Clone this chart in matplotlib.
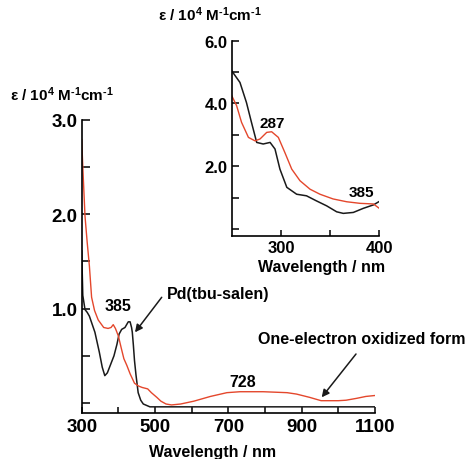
import matplotlib
matplotlib.use("Agg")
import matplotlib.pyplot as plt
import numpy as np

plt.rcParams['font.family'] = ['Liberation Sans', 'DejaVu Sans']
plt.rcParams['font.weight'] = 'bold'
plt.rcParams['mathtext.fontset'] = 'custom'
plt.rcParams['mathtext.rm'] = 'Liberation Sans:bold'
plt.rcParams['mathtext.it'] = 'Liberation Sans:bold'
plt.rcParams['mathtext.bf'] = 'Liberation Sans:bold'

RED = '#e4472c'
BLACK = '#1a1a1a'

# ---- main spectrum data ----
pd_wl = [300, 300.5, 301, 303, 309, 315, 321, 336, 348, 356, 363, 370, 380, 388, 396,
         402, 409, 418, 427, 432, 436, 438, 441, 444, 448, 454, 461, 468, 486, 600,
         800, 1000, 1100]
pd_eps = [1.61, 1.55, 1.45, 1.14, 0.99, 0.96, 0.92, 0.75, 0.54, 0.38, 0.29, 0.32, 0.42,
          0.50, 0.62, 0.73, 0.78, 0.80, 0.86, 0.86, 0.80, 0.75, 0.61, 0.45, 0.30, 0.11,
          0.03, -0.01, -0.04, -0.04, -0.04, -0.04, -0.04]

ox_wl = [300, 303, 309, 315, 321, 327, 335, 345, 360, 372, 380, 386, 392, 400, 408,
         415, 423, 432, 444, 455, 465, 480, 490, 505, 516, 530, 545, 570, 606, 651,
         696, 732, 795, 860, 886, 922, 953, 1000, 1021, 1050, 1075, 1100]
ox_eps = [2.79, 2.50, 1.98, 1.70, 1.45, 1.12, 0.98, 0.88, 0.80, 0.79, 0.80, 0.83, 0.79,
          0.71, 0.58, 0.47, 0.40, 0.31, 0.21, 0.18, 0.165, 0.15, 0.11, 0.06, 0.02,
          -0.01, -0.02, -0.01, 0.02, 0.07, 0.11, 0.12, 0.12, 0.11, 0.095, 0.06, 0.025,
          0.025, 0.03, 0.05, 0.07, 0.08]

# ---- inset (UV region) data ----
pd_wl_uv = [250, 258.4, 265, 270, 275.4, 282, 289, 294, 299, 306, 316, 326, 336, 346.5,
            356.7, 363.4, 373.6, 383.7, 394, 400]
pd_eps_uv = [5.04, 4.67, 4.03, 3.41, 2.76, 2.71, 2.76, 2.55, 1.91, 1.33, 1.11, 1.06, 0.90,
             0.74, 0.55, 0.50, 0.53, 0.66, 0.77, 0.88]
ox_wl_uv = [250, 255, 260, 267, 273.7, 278.8, 285.6, 290.6, 297.4, 304, 311, 319.4,
            329.6, 339.7, 353, 366.9, 380.4, 394, 400]
ox_eps_uv = [4.25, 3.93, 3.40, 2.92, 2.81, 2.87, 3.08, 3.10, 2.92, 2.44, 1.91, 1.54,
             1.27, 1.11, 0.96, 0.87, 0.82, 0.80, 0.66]

main_yticks = [0, 0.5, 1.0, 1.5, 2.0, 2.5, 3.0]
main_yticklabels = ['', '', '1.0', '', '2.0', '', '3.0']
main_xticks = [300, 400, 500, 600, 700, 800, 900, 1000, 1100]
main_xticklabels = ['300', '', '500', '', '700', '', '900', '', '1100']
inset_yticks = [0, 1, 2, 3, 4, 5, 6]
inset_yticklabels = ['', '', '2.0', '', '4.0', '', '6.0']
inset_xticks = [300, 350, 400]
inset_xticklabels = ['300', '', '400']

YLABEL = 'ε / 10$^{4}$ M$^{\u20101}$cm$^{\u20101}$'

W, H = 470, 460
fig = plt.figure(figsize=(4.7, 4.6), dpi=100)

def fx(px):
    return px / W

def fy(py):
    return 1 - py / H

ax = fig.add_axes([fx(81.7), fy(413.5), (375 - 81.7) / W, (413.5 - 120.7) / H])
ax.plot(pd_wl, pd_eps, color=BLACK, lw=1.1)
ax.plot(ox_wl, ox_eps, color=RED, lw=1.0)
ax.set_xlim(300, 1100)
ax.set_ylim(-0.10, 3.0)
ax.set_yticks(main_yticks)
ax.set_yticklabels(main_yticklabels)
ax.set_xticks(main_xticks)
ax.set_xticklabels(main_xticklabels)
for s in ['top', 'right']:
    ax.spines[s].set_visible(False)
for s in ['left', 'bottom']:
    ax.spines[s].set_linewidth(1.2)
ax.tick_params(axis='y', direction='in', length=6, width=1.1, labelsize=13.5, pad=3)
ax.tick_params(axis='x', direction='in', length=4.5, width=1.1, labelsize=13.5, pad=4)
for lab in ax.get_xticklabels() + ax.get_yticklabels():
    lab.set_fontweight('bold')

fig.text(fx(118.5), fy(306.7), '385', fontsize=11.5, fontweight='bold',
         ha='center', va='center')
fig.text(fx(166.5), fy(295), 'Pd(tbu-salen)', fontsize=11.5, fontweight='bold',
         ha='left', va='center')
ax.annotate('', xy=(fx(135), fy(333.3)), xycoords='figure fraction',
            xytext=(fx(161.7), fy(298.3)), textcoords='figure fraction',
            arrowprops=dict(arrowstyle='-|>', color=BLACK, lw=1.1,
                            mutation_scale=11, shrinkA=0, shrinkB=0))
fig.text(fx(243), fy(383), '728', fontsize=11.5, fontweight='bold',
         ha='center', va='center')
fig.text(fx(258), fy(340), 'One-electron oxidized form', fontsize=11.5,
         fontweight='bold', ha='left', va='center')
ax.annotate('', xy=(fx(321.7), fy(398.3)), xycoords='figure fraction',
            xytext=(fx(356), fy(355)), textcoords='figure fraction',
            arrowprops=dict(arrowstyle='-|>', color=BLACK, lw=1.1,
                            mutation_scale=11, shrinkA=0, shrinkB=0))

fig.text(fx(213), fy(452.7), 'Wavelength / nm', fontsize=11.5, fontweight='bold',
         ha='center', va='center')
fig.text(fx(10), fy(95), YLABEL, fontsize=11, fontweight='bold',
         ha='left', va='center')

# ---- inset ----
axi = fig.add_axes([fx(231.7), fy(237.3), (379.3 - 231.7) / W, (237.3 - 41.7) / H])
axi.patch.set_alpha(0)
axi.plot(pd_wl_uv, pd_eps_uv, color=BLACK, lw=1.1)
axi.plot(ox_wl_uv, ox_eps_uv, color=RED, lw=1.0)
axi.set_xlim(250, 400)
axi.set_ylim(-0.23, 6.0)
axi.set_yticks(inset_yticks)
axi.set_yticklabels(inset_yticklabels)
axi.set_xticks(inset_xticks)
axi.set_xticklabels(inset_xticklabels)
for s in ['top', 'right']:
    axi.spines[s].set_visible(False)
for s in ['left', 'bottom']:
    axi.spines[s].set_linewidth(1.2)
axi.tick_params(axis='y', direction='in', length=5, width=1.1, labelsize=12, pad=3)
axi.tick_params(axis='x', direction='in', length=4.5, width=1.1, labelsize=12, pad=3)
for lab in axi.get_xticklabels() + axi.get_yticklabels():
    lab.set_fontweight('bold')

fig.text(fx(272.5), fy(124), '287', fontsize=11, fontweight='bold',
         ha='center', va='center')
fig.text(fx(361), fy(193.3), '385', fontsize=11, fontweight='bold',
         ha='center', va='center')
fig.text(fx(321.7), fy(268), 'Wavelength / nm', fontsize=11.5, fontweight='bold',
         ha='center', va='center')
fig.text(fx(158), fy(15), YLABEL, fontsize=11, fontweight='bold',
         ha='left', va='center')

fig.savefig('out.png', dpi=100)
